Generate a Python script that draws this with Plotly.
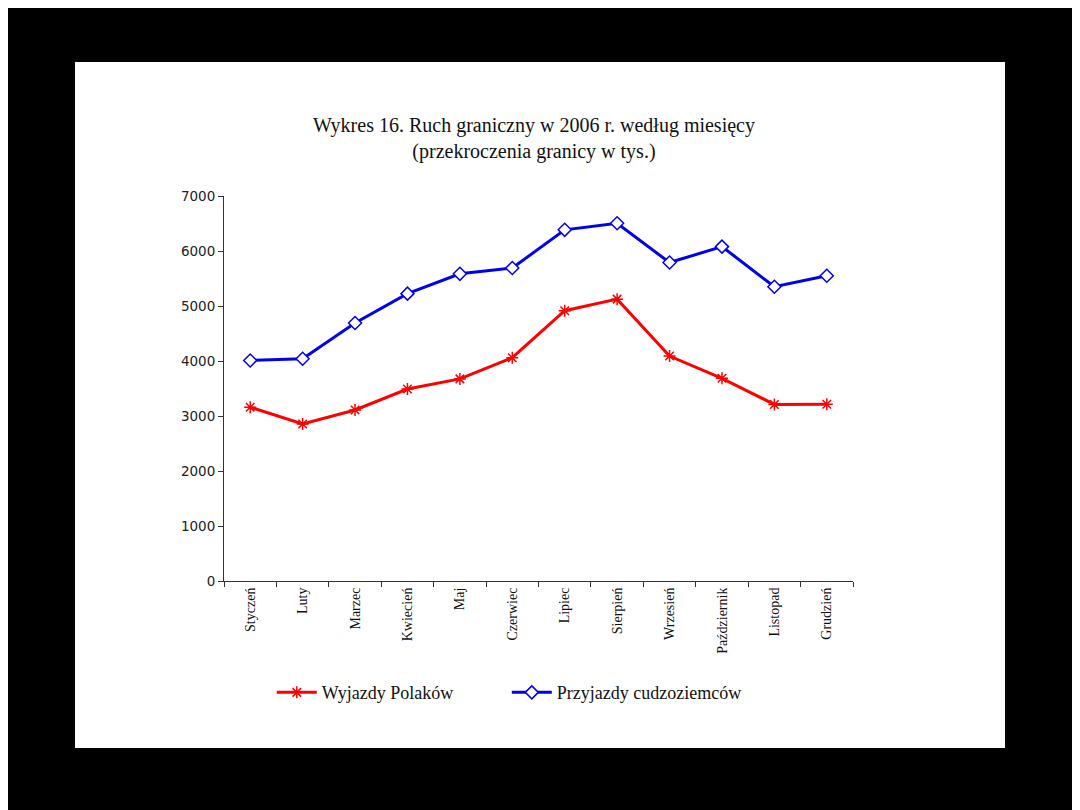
import plotly.graph_objects as go

months = ["Styczeń", "Luty", "Marzec", "Kwiecień", "Maj", "Czerwiec",
          "Lipiec", "Sierpień", "Wrzesień", "Październik", "Listopad", "Grudzień"]
wyjazdy_polakow = [3160, 2855, 3110, 3490, 3675, 4060, 4915, 5125, 4090, 3685, 3210, 3215]
przyjazdy_cudzoziemcow = [4010, 4040, 4690, 5225, 5585, 5690, 6385, 6505, 5790, 6080, 5350, 5550]
y_ticks = [0, 1000, 2000, 3000, 4000, 5000, 6000, 7000]

serif = "Liberation Serif, Times New Roman, serif"

fig = go.Figure()
fig.add_trace(go.Scatter(
    x=months, y=wyjazdy_polakow, name="Wyjazdy Polaków", mode="lines+markers",
    line=dict(color="#FF0000", width=3),
    marker=dict(symbol="asterisk-open", size=10, color="#FF0000",
                line=dict(color="#FF0000", width=1.5)),
))
fig.add_trace(go.Scatter(
    x=months, y=przyjazdy_cudzoziemcow, name="Przyjazdy cudzoziemców", mode="lines+markers",
    line=dict(color="#0000EE", width=3),
    marker=dict(symbol="diamond", size=10, color="white",
                line=dict(color="#0000EE", width=1.5)),
))

# white page on black background
fig.add_shape(type="rect", xref="paper", yref="paper",
              x0=-0.2369, x1=1.2417, y0=-0.4338, y1=1.348,
              fillcolor="white", line=dict(width=0), layer="below")

fig.update_layout(
    width=1080, height=810,
    paper_bgcolor="black", plot_bgcolor="rgba(0,0,0,0)",
    margin=dict(l=216, r=235, t=188, b=237),
    title=dict(
        text="Wykres 16. Ruch graniczny w 2006 r. według miesięcy<br>(przekroczenia granicy w tys.)",
        x=0.487, xanchor="center", y=0.847, yanchor="middle",
        font=dict(family=serif, size=20, color="#111111"),
    ),
    showlegend=True,
    legend=dict(
        orientation="h", x=0.076, xanchor="left", y=-0.29, yanchor="middle",
        font=dict(family=serif, size=18, color="#111111"),
        bgcolor="rgba(0,0,0,0)", entrywidth=180, entrywidthmode="pixels",
        itemwidth=40,
    ),
    xaxis=dict(
        type="category", showgrid=False, showline=True, linecolor="#333333", linewidth=1,
        ticks="outside", ticklen=5, tickcolor="#333333", tickson="boundaries",
        tickangle=-90, tickfont=dict(family=serif, size=14, color="#111111"),
        range=[-0.5, 11.5], fixedrange=True,
    ),
    yaxis=dict(
        range=[0, 7000], tickvals=y_ticks, showgrid=False, zeroline=False,
        showline=True, linecolor="#333333", linewidth=1,
        ticks="outside", ticklen=5, tickcolor="#333333",
        tickfont=dict(family="DejaVu Sans, Verdana, sans-serif", size=13.5, color="#222222"),
    ),
)

fig.write_html("out.html")
